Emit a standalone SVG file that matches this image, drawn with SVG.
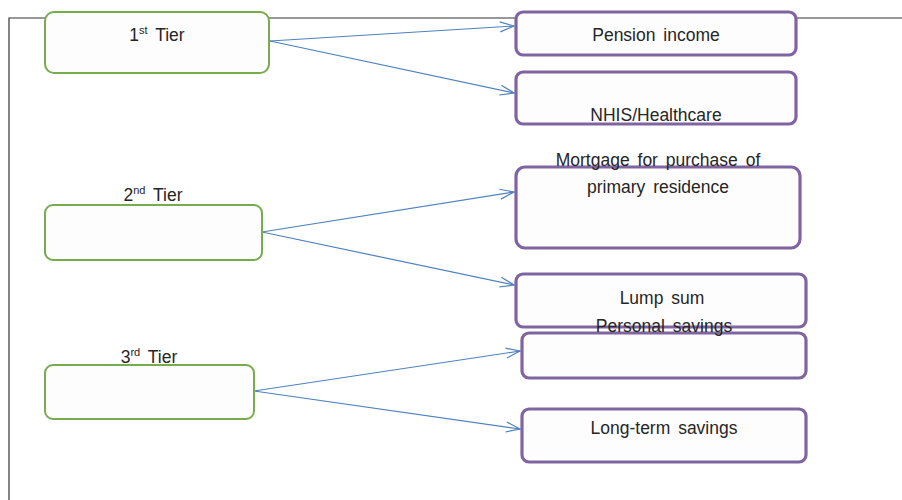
<svg xmlns="http://www.w3.org/2000/svg" width="902" height="500" viewBox="0 0 902 500">
<style>
text{font-family:"Liberation Sans",Arial,sans-serif;font-size:17.5px;fill:#262626;text-anchor:middle;word-spacing:3px}
.g{fill:#fdfdfd;stroke:#76ac4c;stroke-width:2}
.p{fill:#fdfdfd;stroke:#8064a2;stroke-width:3.2}
.c{stroke:#4f81bd;stroke-width:1.2;fill:none;marker-end:url(#ah)}
</style>
<defs>
<marker id="ah" viewBox="0 0 16 12" refX="15" refY="6" markerWidth="16" markerHeight="12" markerUnits="userSpaceOnUse" orient="auto">
<path d="M1,1 L15,6 L1,11" fill="none" stroke="#4f81bd" stroke-width="1.2"/>
</marker>
</defs>
<rect width="902" height="500" fill="#fff"/>
<g id="frame"><path d="M9,500 V18 H902" fill="none" stroke="#333" stroke-width="1.2"/></g>
<g id="connectors">
<line class="c" x1="270" y1="41" x2="514" y2="26"/>
<line class="c" x1="270" y1="41" x2="514" y2="93"/>
<line class="c" x1="262" y1="232" x2="514" y2="192"/>
<line class="c" x1="262" y1="232" x2="514" y2="285"/>
<line class="c" x1="254" y1="391" x2="520" y2="351"/>
<line class="c" x1="254" y1="391" x2="520" y2="429"/>
</g>
<g id="tier1"><rect class="g" x="45" y="12" width="224" height="61" rx="9"/><text x="157" y="41" word-spacing="0">1<tspan font-size="11" dy="-7">st</tspan><tspan dy="7"> Tier</tspan></text></g>
<g id="tier2"><rect class="g" x="45" y="205" width="217" height="55" rx="8"/><text x="153" y="201" word-spacing="0">2<tspan font-size="11" dy="-7">nd</tspan><tspan dy="7"> Tier</tspan></text></g>
<g id="tier3"><rect class="g" x="45" y="365" width="209" height="54" rx="8"/><text x="149" y="363" word-spacing="0">3<tspan font-size="11" dy="-7">rd</tspan><tspan dy="7"> Tier</tspan></text></g>
<g id="pension"><rect class="p" x="516" y="12" width="280" height="43" rx="7"/><text x="656" y="41">Pension income</text></g>
<g id="nhis"><rect class="p" x="516" y="72" width="280" height="52" rx="7"/><text x="656" y="121" word-spacing="0">NHIS/Healthcare</text></g>
<g id="mortgage"><rect class="p" x="516" y="167" width="284" height="81" rx="9"/><text x="658" y="166">Mortgage for purchase of</text><text x="658" y="193">primary residence</text></g>
<g id="lumpsum"><rect class="p" x="516" y="274" width="290" height="53" rx="7"/><text x="662" y="304">Lump sum</text></g>
<g id="personal"><rect class="p" x="522" y="333" width="284" height="45" rx="7"/><text x="664" y="332">Personal savings</text></g>
<g id="longterm"><rect class="p" x="522" y="409" width="284" height="53" rx="7"/><text x="664" y="434">Long-term savings</text></g>
</svg>
